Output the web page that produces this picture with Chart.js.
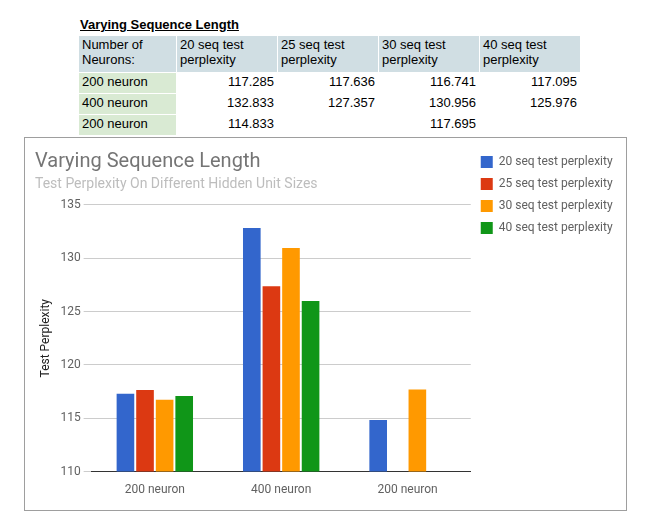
<!DOCTYPE html>
<html><head><meta charset="utf-8">
<script src="https://cdn.jsdelivr.net/npm/chart.js@4/dist/chart.umd.min.js"></script>
<style>
body{margin:0;background:#fff;font-family:Roboto,Arial,sans-serif;}
#ttl{position:absolute;left:80px;top:17px;font:bold 13px Arial,"Liberation Sans",sans-serif;text-decoration:underline;}
table{position:absolute;left:78px;top:35px;border-collapse:collapse;font:13px Arial,"Liberation Sans",sans-serif;}
td{border:1px solid #fff;padding:1px 3px;height:18px;vertical-align:top;}
td.h{background:#d0dee3;height:34px;}
td.f{background:#d9ead3;}
td.n{text-align:right;}
#box{position:absolute;left:24px;top:137px;width:601px;height:372px;border:1px solid #9e9e9e;}
</style></head><body>
<div id="ttl">Varying Sequence Length</div>
<table id="tbl"></table>
<div id="box"><canvas id="c" width="601" height="372"></canvas></div>
<script>
var categories = ['200 neuron', '400 neuron', '200 neuron'];
var seriesNames = ['20 seq test perplexity', '25 seq test perplexity', '30 seq test perplexity', '40 seq test perplexity'];
var seq20 = [117.285, 132.833, 114.833];
var seq25 = [117.636, 127.357, null];
var seq30 = [116.741, 130.956, 117.695];
var seq40 = [117.095, 125.976, null];
var colors = ['#3366cc', '#dc3912', '#ff9900', '#109618'];
var series = [seq20, seq25, seq30, seq40];

var tbl = document.getElementById('tbl');
var html = '<tr><td class="h" style="width:91px">Number of<br>Neurons:</td>';
seriesNames.forEach(function (s) {
  var p = s.split(' test ');
  html += '<td class="h" style="width:94px">' + p[0] + ' test<br>' + p[1] + '</td>';
});
html += '</tr>';
categories.forEach(function (c, i) {
  html += '<tr><td class="f">' + c + '</td>';
  series.forEach(function (s) { html += '<td class="n">' + (s[i] == null ? '' : s[i].toFixed(3)) + '</td>'; });
  html += '</tr>';
});
tbl.innerHTML = html;

new Chart(document.getElementById('c'), {
  type: 'bar',
  data: {
    labels: categories,
    datasets: series.map(function (s, i) {
      return { label: seriesNames[i], data: s, backgroundColor: colors[i], categoryPercentage: 0.62, barPercentage: 0.9 };
    })
  },
  options: {
    responsive: false, animation: false,
    layout: { padding: { left: 10, right: 10, top: 8, bottom: 10 } },
    plugins: {
      title: { display: true, text: 'Varying Sequence Length', align: 'start', color: '#757575', font: { size: 20, family: 'Roboto', weight: 'normal' }, padding: { top: 4, bottom: 2 } },
      subtitle: { display: true, text: 'Test Perplexity On Different Hidden Unit Sizes', align: 'start', color: '#bdbdbd', font: { size: 14, family: 'Roboto' }, padding: { bottom: 12 } },
      legend: { position: 'right', align: 'start', labels: { boxWidth: 12, boxHeight: 12, color: '#616161', font: { size: 12, family: 'Roboto' }, padding: 10 } }
    },
    scales: {
      x: { grid: { display: false }, border: { color: '#333' }, ticks: { color: '#616161', font: { size: 12, family: 'Roboto' } } },
      y: { min: 110, max: 135, ticks: { stepSize: 5, color: '#616161', font: { size: 12, family: 'Roboto' } }, border: { display: false }, grid: { color: '#cccccc' },
        title: { display: true, text: 'Test Perplexity', color: '#222', font: { size: 12, family: 'Roboto' } } }
    }
  }
});
</script>
</body></html>
